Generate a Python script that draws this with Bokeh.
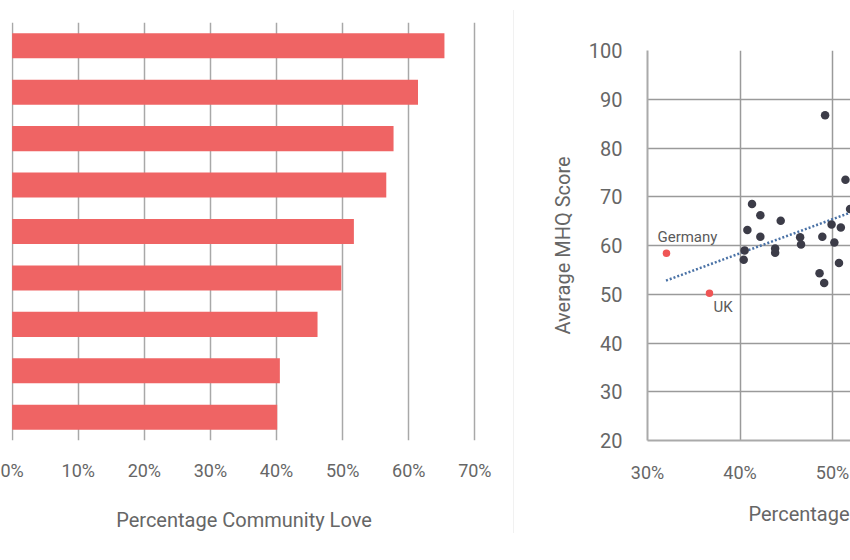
from bokeh.plotting import figure
from bokeh.models import Range1d, Title, Div, FixedTicker, PrintfTickFormatter, ColumnDataSource
from bokeh.layouts import row
from bokeh.embed import file_html
from bokeh.resources import INLINE

# ---- left chart data ----
bar_rank = [1, 2, 3, 4, 5, 6, 7, 8, 9]
bar_love_pct = [65.4, 61.4, 57.7, 56.6, 51.7, 49.8, 46.2, 40.5, 40.1]
bar_ticks = [0, 10, 20, 30, 40, 50, 60, 70]

# ---- right chart data ----
sc_love_pct = [49.2, 51.4, 51.9, 41.3, 42.2, 44.4, 40.8, 42.2, 49.9, 50.9, 48.9,
               46.5, 46.6, 50.2, 43.8, 43.8, 40.5, 40.4, 50.7, 48.6, 49.1]
sc_mhq = [86.7, 73.5, 67.5, 68.5, 66.2, 65.1, 63.2, 61.8, 64.3, 63.7, 61.8,
          61.7, 60.2, 60.6, 59.4, 58.5, 59.0, 57.1, 56.4, 54.3, 52.3]
hl_names = ["Germany", "UK"]
hl_love_pct = [32.05, 36.7]
hl_mhq = [58.4, 50.2]
trend_love_pct = [32.0, 60.0]
trend_mhq = [52.8, 72.4]
sc_x_ticks = [30, 40, 50, 60, 70, 80]
sc_y_ticks = [20, 30, 40, 50, 60, 70, 80, 90, 100]

FONT = "Roboto"
TXT = "#666666"
H = 550

# ---------------- left: bars ----------------
p1 = figure(width=513, height=H, output_backend="svg", toolbar_location=None,
            x_range=Range1d(-0.1, 70.25), y_range=Range1d(9.5, 0.5),
            min_border_left=11, min_border_right=37, min_border_top=22,
            min_border_bottom=H - 440)
p1.frame_align = False
p1.outline_line_color = None
p1.hbar(y=bar_rank, right=bar_love_pct, left=0, height=0.54, color="#ef6464", line_color=None)
p1.yaxis.visible = False
p1.ygrid.grid_line_color = None
p1.xgrid.ticker = FixedTicker(ticks=bar_ticks)
p1.xgrid.grid_line_color = "#a8a8a8"
p1.xgrid.grid_line_width = 1.5
ax = p1.xaxis[0]
ax.ticker = FixedTicker(ticks=bar_ticks)
ax.formatter = PrintfTickFormatter(format="%d%%")
ax.axis_line_color = None
ax.major_tick_line_color = None
ax.minor_tick_line_color = None
ax.major_label_standoff = 13
ax.major_label_text_font = FONT
ax.major_label_text_font_size = "18px"
ax.major_label_text_color = TXT
ax.axis_label = "Percentage Community Love"
ax.axis_label_text_font = FONT
ax.axis_label_text_font_size = "20px"
ax.axis_label_text_font_style = "normal"
ax.axis_label_text_color = TXT
ax.axis_label_standoff = 24

# ---------------- divider ----------------
div = Div(text="", width=1, height=523, margin=(10, 0, 0, 0),
          styles={"background-color": "#f1f1f1"})

# ---------------- right: scatter ----------------
p2 = figure(width=336, height=H, output_backend="svg", toolbar_location=None,
            x_range=Range1d(30, 30 + 203 / 9.25), y_range=Range1d(20, 100),
            min_border_left=133, min_border_right=0, min_border_top=50,
            min_border_bottom=H - 440)
p2.frame_align = False
p2.outline_line_color = None
p2.xgrid.ticker = FixedTicker(ticks=sc_x_ticks)
p2.ygrid.ticker = FixedTicker(ticks=sc_y_ticks)
for g in (p2.xgrid[0], p2.ygrid[0]):
    g.grid_line_color = "#9a9a9a"
    g.grid_line_width = 1.5

p2.line(trend_love_pct, trend_mhq, line_color="#4a72a6", line_width=2.5, line_dash="2 2")
p2.scatter(sc_love_pct, sc_mhq, size=8.5, color="#3c3c48", line_color=None)
p2.scatter(hl_love_pct, hl_mhq, size=7.5, color="#ef5555", line_color=None)
lab_src = ColumnDataSource(dict(x=hl_love_pct, y=hl_mhq, t=hl_names,
                                dx=[-9, 4], dy=[-16, 14]))
p2.text(x="x", y="y", text="t", x_offset="dx", y_offset="dy", source=lab_src,
        text_font={"value": FONT}, text_font_size="15px", text_color="#5a5a5a",
        text_align="left", text_baseline="middle")

xa = p2.xaxis[0]
xa.ticker = FixedTicker(ticks=sc_x_ticks)
xa.formatter = PrintfTickFormatter(format="%d%%")
ya = p2.yaxis[0]
ya.ticker = FixedTicker(ticks=sc_y_ticks)
for a in (xa, ya):
    a.axis_line_color = "#aaaaaa"
    a.axis_line_width = 2
    a.major_tick_line_color = None
    a.minor_tick_line_color = None
    a.major_label_text_font = FONT
    a.major_label_text_color = TXT
xa.major_label_text_font_size = "18px"
ya.major_label_text_font_size = "20px"
xa.major_label_standoff = 15
ya.major_label_standoff = 19
ya.axis_label = "Average MHQ Score"
ya.axis_label_text_font = FONT
ya.axis_label_text_font_size = "20px"
ya.axis_label_text_font_style = "normal"
ya.axis_label_text_color = TXT
ya.axis_label_standoff = 11

t = Title(text="Percentage Community Love", align="left", offset=101,
          text_font=FONT, text_font_size="20px", text_font_style="normal",
          text_color=TXT, standoff=28)
p2.add_layout(t, "below")

layout = row(p1, div, p2)
open("out.html", "w").write(file_html(layout, INLINE))
